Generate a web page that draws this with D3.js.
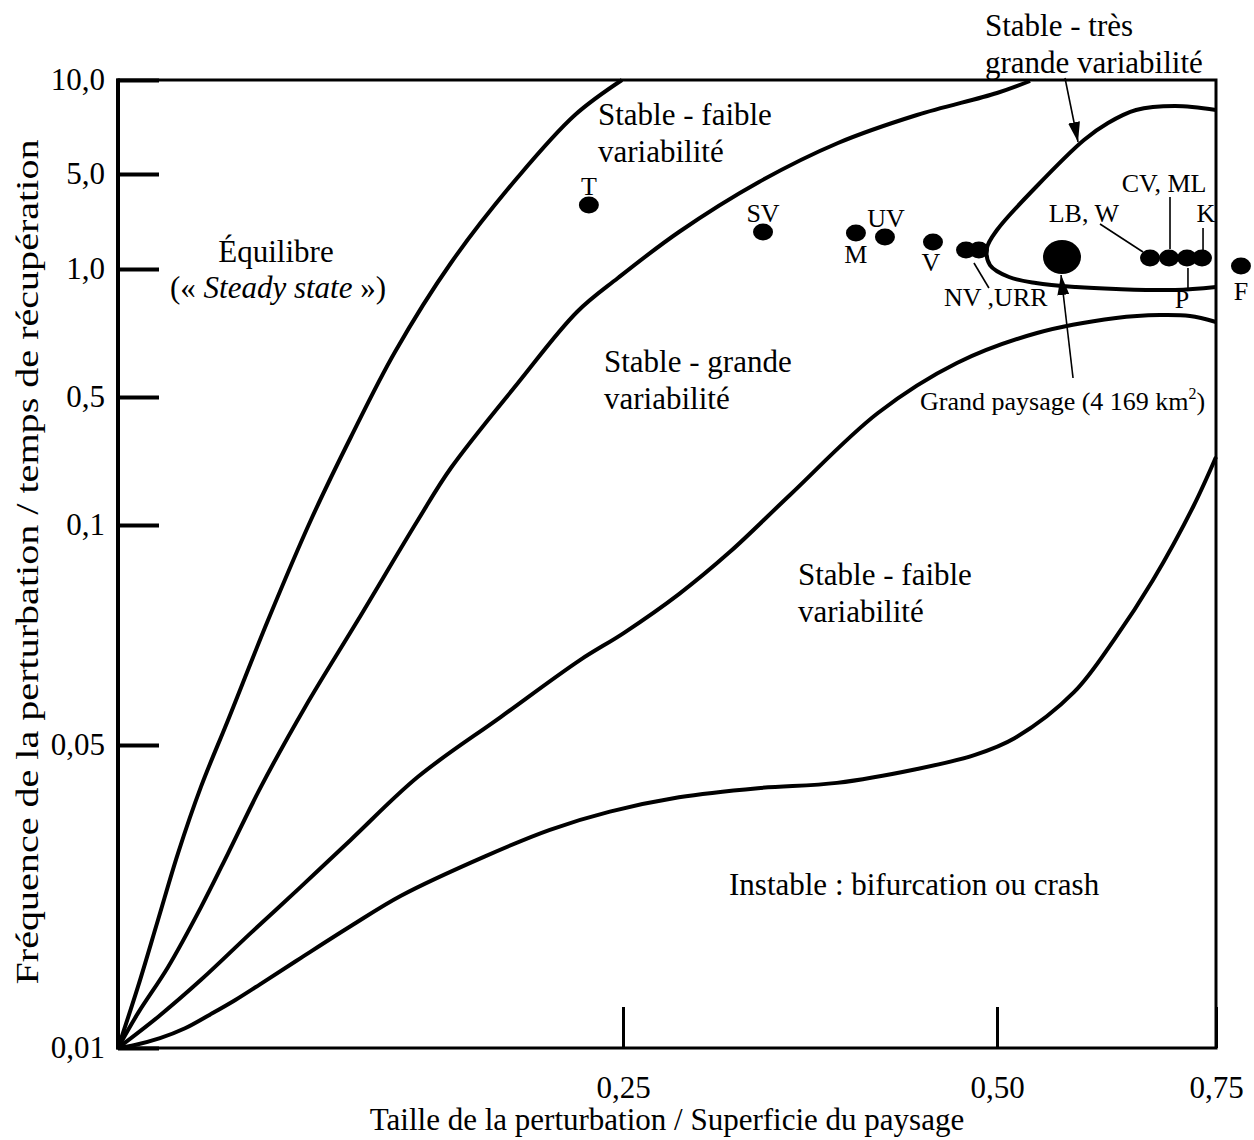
<!DOCTYPE html>
<html>
<head>
<meta charset="utf-8">
<script src="https://cdn.jsdelivr.net/npm/d3@7"></script>
<style>
  body { margin: 0; background: #fff; }
  svg text { font-family: 'Liberation Serif', 'Times New Roman', serif; fill: #000; }
</style>
</head>
<body>
<div id="chart"></div>
<script>
// axis breaks (the axes are not regular: each labelled value sits at its own place)
const xTickValues = [0.25, 0.5, 0.75]
const xTickLabels = ['0,25', '0,50', '0,75']
const yTickValues = [0.01, 0.05, 0.1, 0.5, 1, 5, 10]
const yTickLabels = ['0,01', '0,05', '0,1', '0,5', '1,0', '5,0', '10,0']

// boundaries between regimes, [taille, fréquence]
const curveEquilibre = [
  [0, 0.01], [0.0099, 0.0181], [0.0198, 0.0269], [0.0297, 0.0357], [0.0411, 0.0445],
  [0.0545, 0.0557], [0.0743, 0.0784], [0.0955, 0.1156], [0.1153, 0.375], [0.1371, 0.6758],
  [0.1648, 1.253], [0.198, 4.873], [0.2262, 8.138], [0.2495, 10]
]
const curveFaible = [
  [0, 0.01], [0.0099, 0.0146], [0.0248, 0.0207], [0.0411, 0.0286], [0.0545, 0.0357],
  [0.0708, 0.0445], [0.0926, 0.0586], [0.1188, 0.0784], [0.1485, 0.1156], [0.1648, 0.2781],
  [0.198, 0.5547], [0.2272, 0.832], [0.2475, 0.9648], [0.2874, 2.558], [0.3409, 4.663],
  [0.3937, 6.649], [0.4465, 8.138], [0.5, 9.309], [0.5377, 9.947]
]
const curveGrande = [
  [0, 0.01], [0.0198, 0.0141], [0.0411, 0.019], [0.0658, 0.0252], [0.0906, 0.0313],
  [0.1153, 0.0375], [0.1485, 0.0458], [0.1896, 0.0564], [0.2287, 0.0693], [0.2507, 0.0755],
  [0.2874, 0.0843], [0.3215, 0.0939], [0.3616, 0.1938], [0.4204, 0.45], [0.4732, 0.6328],
  [0.5457, 0.75], [0.6359, 0.8086], [0.6861, 0.8203], [0.7203, 0.8164], [0.75, 0.793]
]
const curveInstable = [
  [0, 0.01], [0.0084, 0.0104], [0.0208, 0.0113], [0.0332, 0.0126], [0.0455, 0.0144],
  [0.0579, 0.0163], [0.0703, 0.0184], [0.0906, 0.0219],
  [0.1153, 0.0261], [0.1401, 0.0301], [0.1817, 0.0353], [0.2138, 0.0388], [0.2435, 0.0412],
  [0.2874, 0.0431], [0.3402, 0.0443], [0.393, 0.045], [0.4458, 0.0468], [0.4853, 0.0487],
  [0.5205, 0.0516], [0.5879, 0.062], [0.6336, 0.0739], [0.6781, 0.0875], [0.7238, 0.1563],
  [0.75, 0.3125]
]
const curveTresGrande = [
  [0.75, 8.404], [0.7032, 8.617], [0.6587, 8.404], [0.6267, 7.713], [0.5993, 6.809],
  [0.5445, 4.453], [0.5, 2.642], [0.4933, 1.884], [0.4953, 1.168], [0.5137, 0.9688],
  [0.5445, 0.9453], [0.5902, 0.9297], [0.6359, 0.9219], [0.7032, 0.918], [0.75, 0.9297]
]

// sites
const siteNames = ['T', 'SV', 'M', 'UV', 'V', 'NV', 'URR', 'LB-W', 'CV-ML', 'P', 'K', 'F']
const siteSize = [0.2331, 0.3436, 0.4057, 0.4251, 0.4572, 0.4793, 0.4879, 0.6747, 0.6964, 0.7169, 0.734, 0.7785]
const siteFreq = [3.695, 2.558, 2.516, 2.347, 2.137, 1.8, 1.8, 1.463, 1.463, 1.463, 1.463, 1.126]
const grandSize = 0.5742
const grandFreq = 1.505

const siteLabels = ['T', 'SV', 'M', 'UV', 'V', 'NV ,URR', 'LB, W', 'CV, ML', 'P', 'K', 'F']
const siteLabelOf = ['T', 'SV', 'M', 'UV', 'V', 'NV', 'LB-W', 'CV-ML', 'P', 'K', 'F']

// leader lines [[x1, y1], [x2, y2]]
const leaders = [
  [[0.4846, 1.253], [0.4946, 0.9258]],
  [[0.6176, 2.895], [0.6667, 1.716]],
  [[0.6975, 4.031], [0.6975, 1.842]],
  [[0.7352, 2.726], [0.7352, 1.8]],
  [[0.718, 1.042], [0.718, 0.9219]]
]
const arrows = [
  [[0.5776, 10.106], [0.5925, 6.702]],
  [[0.5868, 0.5742], [0.5731, 0.9766]]
]

const width = 1254
const height = 1140
const font = "'Liberation Serif', 'Times New Roman', serif"

const x = d3.scaleLinear()
  .domain([0, ...xTickValues])
  .range([118, 623, 997, 1216])

const y = d3.scaleLinear()
  .domain(yTickValues)
  .range([1048, 745, 525, 397, 269, 174, 80])

const svg = d3.select('#chart')
  .append('svg')
  .attr('width', width)
  .attr('height', height)

const defs = svg.append('defs')
defs.append('marker')
  .attr('id', 'head')
  .attr('viewBox', '0 0 20 12')
  .attr('refX', 20)
  .attr('refY', 6)
  .attr('markerWidth', 20)
  .attr('markerHeight', 12)
  .attr('markerUnits', 'userSpaceOnUse')
  .attr('orient', 'auto')
  .append('path')
  .attr('d', 'M0,0 L20,6 L0,12 Z')
  .attr('fill', 'black')

// frame
svg.append('rect')
  .attr('x', x(0))
  .attr('y', y(10))
  .attr('width', x(0.75) - x(0))
  .attr('height', y(0.01) - y(10))
  .attr('fill', 'none')
  .attr('stroke', 'black')
  .attr('stroke-width', 3)

svg.append('line')
  .attr('x1', x(0))
  .attr('x2', x(0))
  .attr('y1', y(10) - 1.5)
  .attr('y2', y(0.01) + 1.5)
  .attr('stroke', 'black')
  .attr('stroke-width', 4)

const yAxis = d3.axisLeft(y)
  .tickValues(yTickValues)
  .tickFormat((d, i) => yTickLabels[i])
  .tickSizeInner(-41)
  .tickSizeOuter(0)
  .tickPadding(13)

svg.append('g')
  .attr('transform', `translate(${x(0)},0)`)
  .call(yAxis)
  .attr('font-family', font)
  .attr('font-size', 31)
  .call(g => g.select('.domain').remove())
  .call(g => g.selectAll('.tick line').attr('stroke', 'black').attr('stroke-width', 4))
  .call(g => g.selectAll('.tick text').attr('fill', 'black'))

const xAxis = d3.axisBottom(x)
  .tickValues(xTickValues)
  .tickFormat((d, i) => xTickLabels[i])
  .tickSizeInner(-41)
  .tickSizeOuter(0)
  .tickPadding(28)

svg.append('g')
  .attr('transform', `translate(0,${y(0.01)})`)
  .call(xAxis)
  .attr('font-family', font)
  .attr('font-size', 31)
  .call(g => g.select('.domain').remove())
  .call(g => g.selectAll('.tick line').attr('stroke', 'black').attr('stroke-width', 3))
  .call(g => g.selectAll('.tick text').attr('fill', 'black'))

// boundaries
const line = d3.line()
  .x(d => x(d[0]))
  .y(d => y(d[1]))
  .curve(d3.curveCatmullRom.alpha(0.5))

svg.selectAll('path.boundary')
  .data([curveEquilibre, curveFaible, curveGrande, curveInstable, curveTresGrande])
  .enter()
  .append('path')
  .attr('class', 'boundary')
  .attr('d', line)
  .attr('fill', 'none')
  .attr('stroke', 'black')
  .attr('stroke-width', 4)
  .attr('stroke-linejoin', 'round')

// leaders and arrows
svg.selectAll('line.leader')
  .data(leaders)
  .enter()
  .append('line')
  .attr('class', 'leader')
  .attr('x1', d => x(d[0][0]))
  .attr('y1', d => y(d[0][1]))
  .attr('x2', d => x(d[1][0]))
  .attr('y2', d => y(d[1][1]))
  .attr('stroke', 'black')
  .attr('stroke-width', 1.6)

svg.selectAll('line.arrow')
  .data(arrows)
  .enter()
  .append('line')
  .attr('class', 'arrow')
  .attr('x1', d => x(d[0][0]))
  .attr('y1', d => y(d[0][1]))
  .attr('x2', d => x(d[1][0]))
  .attr('y2', d => y(d[1][1]))
  .attr('stroke', 'black')
  .attr('stroke-width', 1.6)
  .attr('marker-end', 'url(#head)')

// sites
svg.selectAll('ellipse.site')
  .data(siteNames)
  .enter()
  .append('ellipse')
  .attr('class', 'site')
  .attr('cx', (d, i) => x(siteSize[i]))
  .attr('cy', (d, i) => y(siteFreq[i]))
  .attr('rx', 10)
  .attr('ry', 8.5)
  .attr('fill', 'black')

svg.append('ellipse')
  .attr('cx', x(grandSize))
  .attr('cy', y(grandFreq))
  .attr('rx', 19)
  .attr('ry', 17)
  .attr('fill', 'black')

// label placement around each dot
const labelOffset = {
  'T': [0, -10, 'middle'],
  'SV': [0, -10, 'middle'],
  'M': [0, 30, 'middle'],
  'UV': [1, -10, 'middle'],
  'V': [-2, 29, 'middle'],
  'NV': [-22, 56, 'start'],
  'LB-W': [-31, -36, 'end'],
  'CV-ML': [-5, -66, 'middle'],
  'P': [-5, 50, 'middle'],
  'K': [4, -36, 'middle'],
  'F': [0, 34, 'middle']
}

svg.selectAll('text.site')
  .data(siteLabels)
  .enter()
  .append('text')
  .attr('class', 'site')
  .attr('x', (d, i) => {
    const k = siteNames.indexOf(siteLabelOf[i])
    return x(siteSize[k]) + labelOffset[siteLabelOf[i]][0]
  })
  .attr('y', (d, i) => {
    const k = siteNames.indexOf(siteLabelOf[i])
    return y(siteFreq[k]) + labelOffset[siteLabelOf[i]][1]
  })
  .attr('text-anchor', (d, i) => labelOffset[siteLabelOf[i]][2])
  .attr('font-size', 26)
  .text(d => d)

const grand = svg.append('text')
  .attr('x', 920)
  .attr('y', 410)
  .attr('font-size', 26)
grand.append('tspan').text('Grand paysage (4 169 km')
grand.append('tspan').attr('font-size', 16).attr('dy', -11).text('2')
grand.append('tspan').attr('dy', 11).text(')')

// region names
const regions = [
  { lines: ['Stable - très', 'grande variabilité'], x: 985, y: 36, anchor: 'start' },
  { lines: ['Stable - faible', 'variabilité'], x: 598, y: 125, anchor: 'start' },
  { lines: ['Équilibre'], x: 276, y: 262, anchor: 'middle' },
  { lines: ['Stable - grande', 'variabilité'], x: 604, y: 372, anchor: 'start' },
  { lines: ['Stable - faible', 'variabilité'], x: 798, y: 585, anchor: 'start' },
  { lines: ['Instable : bifurcation ou crash'], x: 729, y: 895, anchor: 'start' }
]

regions.forEach(r => {
  r.lines.forEach((t, i) => {
    svg.append('text')
      .attr('x', r.x)
      .attr('y', r.y + i * 37)
      .attr('text-anchor', r.anchor)
      .attr('font-size', 31)
      .text(t)
  })
})

const steady = svg.append('text')
  .attr('x', 278)
  .attr('y', 298)
  .attr('text-anchor', 'middle')
  .attr('font-size', 31)
steady.append('tspan').text('(« ')
steady.append('tspan').attr('font-style', 'italic').text('Steady state')
steady.append('tspan').text(' »)')

// axis titles
svg.append('text')
  .attr('x', (x(0) + x(0.75)) / 2)
  .attr('y', 1130)
  .attr('text-anchor', 'middle')
  .attr('font-size', 31)
  .text('Taille de la perturbation / Superficie du paysage')

svg.append('text')
  .attr('transform', `translate(38,562) rotate(-90)`)
  .attr('text-anchor', 'middle')
  .attr('font-size', 31)
  .attr('textLength', 845)
  .attr('lengthAdjust', 'spacingAndGlyphs')
  .text('Fréquence de la perturbation / temps de récupération')
</script>
</body>
</html>
